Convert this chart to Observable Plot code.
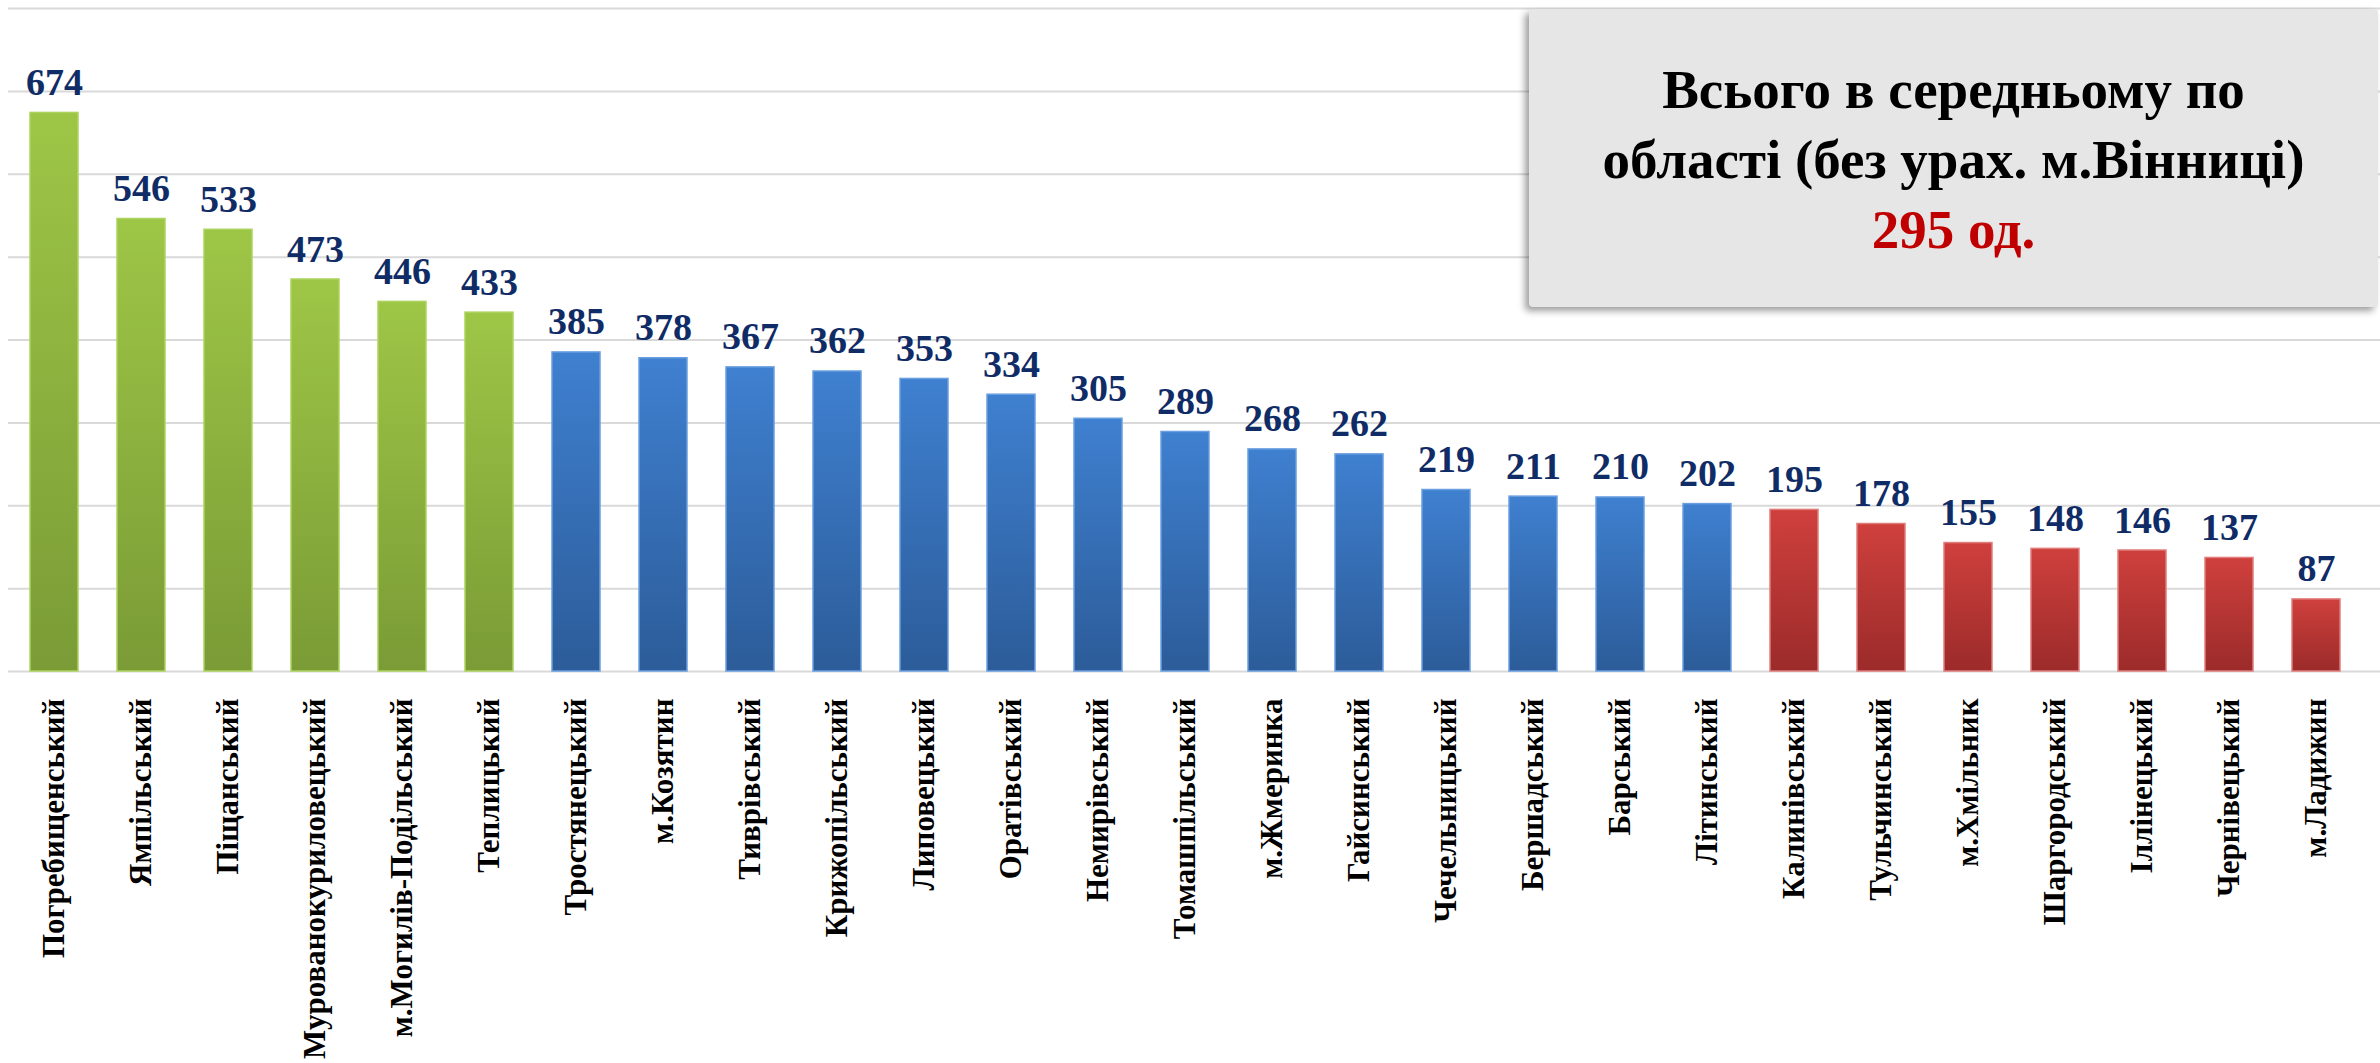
<!DOCTYPE html>
<html>
<head>
<meta charset="utf-8">
<script src="https://cdn.jsdelivr.net/npm/d3@7"></script>
<script src="https://cdn.jsdelivr.net/npm/@observablehq/plot@0.6"></script>
<style>
  html, body { margin: 0; padding: 0; background: #fff; overflow: hidden; }
  #wrap { position: relative; width: 2380px; height: 1063px; }
  #box {
    position: absolute; left: 1529px; top: 9px; width: 849px; height: 298px;
    background: #e6e6e6; border-radius: 4px;
    box-shadow: -4px 4px 7px rgba(0,0,0,0.38);
    font-family: "Liberation Serif", "Times New Roman", serif; font-weight: bold;
    text-align: center; color: #000; font-size: 55px; line-height: 70px;
    box-sizing: border-box; padding-top: 46px;
  }
  #box .red { color: #c00000; }
</style>
</head>
<body>
<div id="wrap">
  <div id="chart"></div>
  <div id="box">Всього в середньому по<br>області (без урах. м.Вінниці)<br><span class="red">295 од.</span></div>
</div>
<script>
const names = ["Погребищенський","Ямпільський","Піщанський","Мурованокуриловецький","м.Могилів-Подільський","Теплицький","Тростянецький","м.Козятин","Тиврівський","Крижопільський","Липовецький","Оратівський","Немирівський","Томашпільський","м.Жмеринка","Гайсинський","Чечельницький","Бершадський","Барський","Літинський","Калинівський","Тульчинський","м.Хмільник","Шаргородський","Іллінецький","Чернівецький","м.Ладижин"];
const values = [674,546,533,473,446,433,385,378,367,362,353,334,305,289,268,262,219,211,210,202,195,178,155,148,146,137,87];
const groups = ["green","green","green","green","green","green","blue","blue","blue","blue","blue","blue","blue","blue","blue","blue","blue","blue","blue","blue","red","red","red","red","red","red","red"];
const gridTicks = [0,100,200,300,400,500,600,700,800];

const data = names.map((n, i) => ({name: n, value: values[i], group: groups[i]}));

const gradients = {
  green: ["#9ec646", "#7a9b36", "#acd35e"],
  blue:  ["#3f80d0", "#2c5c99", "#6a9fe0"],
  red:   ["#cf403d", "#9b2b2a", "#e07d7b"]
};

function defsMark() {
  const ns = "http://www.w3.org/2000/svg";
  const defs = document.createElementNS(ns, "defs");
  for (const [k, [top, bottom]] of Object.entries(gradients)) {
    const lg = document.createElementNS(ns, "linearGradient");
    lg.setAttribute("id", "grad-" + k);
    lg.setAttribute("x1", "0"); lg.setAttribute("y1", "0");
    lg.setAttribute("x2", "0"); lg.setAttribute("y2", "1");
    const s1 = document.createElementNS(ns, "stop");
    s1.setAttribute("offset", "0"); s1.setAttribute("stop-color", top);
    const s2 = document.createElementNS(ns, "stop");
    s2.setAttribute("offset", "1"); s2.setAttribute("stop-color", bottom);
    lg.appendChild(s1); lg.appendChild(s2);
    defs.appendChild(lg);
  }
  return defs;
}

const font = "'Liberation Serif', 'Times New Roman', serif";

const barMarks = Object.keys(gradients).map(k =>
  Plot.barY(data.filter(d => d.group === k), {
    x: "name", y: "value",
    fill: `url(#grad-${k})`,
    stroke: gradients[k][2], strokeWidth: 1.5
  })
);

const chart = Plot.plot({
  width: 2380,
  height: 1063,
  marginLeft: 8,
  marginRight: 18,
  marginTop: 8,
  marginBottom: 392,
  style: {fontFamily: font, background: "transparent"},
  x: {domain: names, paddingInner: 0.45, paddingOuter: 0.2, label: null},
  y: {domain: [0, 800], axis: null},
  marks: [
    defsMark,
    Plot.ruleY(gridTicks, {stroke: "#d9d9d9", strokeWidth: 2, insetRight: -18}),
    ...barMarks,
    Plot.text(data, {
      x: "name", y: "value", text: d => String(d.value),
      dy: -18, lineAnchor: "bottom", fontSize: 38, fontWeight: "bold",
      fill: "#102c66"
    }),
    Plot.axisX({
      tickRotate: -90, tickSize: 0, tickPadding: 27,
      fontSize: 31, fontWeight: "bold", fill: "#000", label: null
    })
  ]
});

document.getElementById("chart").appendChild(chart);
</script>
</body>
</html>
